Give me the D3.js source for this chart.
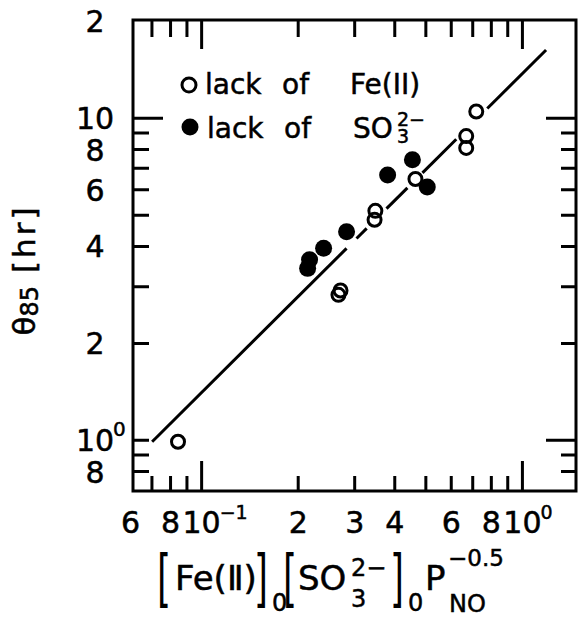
<!DOCTYPE html>
<html>
<head>
<meta charset="utf-8">
<script src="https://cdn.jsdelivr.net/npm/d3@7"></script>
<style>
  body { margin: 0; background: #fff; }
  text { font-family: "DejaVu Sans", sans-serif; fill: #000; stroke: #000; stroke-width: 0.5px; }
</style>
</head>
<body>
<svg id="chart" width="579" height="619"></svg>
<script>
// Data
const lackFeX = [0.0844, 0.271, 0.267, 0.348, 0.346, 0.464, 0.668, 0.668, 0.718];
const lackFeY = [0.99, 2.92, 2.83, 5.16, 4.84, 6.48, 8.81, 8.09, 10.5];
const lackSO3X = [0.217, 0.214, 0.240, 0.283, 0.380, 0.454, 0.505];
const lackSO3Y = [3.64, 3.42, 3.95, 4.44, 6.67, 7.43, 6.12];

// fitted line (end points) and the pieces actually drawn (x ranges)
const fitLine = [[0.0701, 0.99], [1.185, 16.3]];
const fitPieces = [[0.0701, 0.283], [0.304, 0.327], [0.377, 0.438], [0.488, 0.622], [0.777, 1.185]];

// ticks
const xMajor = [0.1, 1];
const xMinor = [0.07, 0.08, 0.09, 0.2, 0.3, 0.4, 0.5, 0.6, 0.7, 0.8, 0.9];
const yMajorLeft = [10];
const yMinorLeft = [0.8, 0.9, 1, 2, 3, 4, 5, 6, 7, 8, 9];
const yMajorRight = [1, 10];
const yMinorRight = [0.8, 0.9, 2, 3, 4, 5, 6, 7, 8, 9];

const xLabelValues = [0.06, 0.08, 0.1, 0.2, 0.3, 0.4, 0.6, 0.8, 1];
const xLabelText = ["6", "8", "10", "2", "3", "4", "6", "8", "10"];
const xLabelExp = ["", "", "\u22121", "", "", "", "", "", "0"];
const yLabelValues = [20, 10, 8, 6, 4, 2, 1, 0.8];
const yLabelText = ["2", "10", "8", "6", "4", "2", "10", "8"];
const yLabelExp = ["", "", "", "", "", "", "0", ""];

const svg = d3.select("#chart");
const m = { left: 133, right: 576, top: 20, bottom: 491 };

const x = d3.scaleLog().domain([0.0611, 1.469]).range([m.left, m.right]);
const y = d3.scaleLog().domain([0.696, 20.2]).range([m.bottom, m.top]);

// Frame and inward ticks, as one path
const p = d3.path();
p.rect(m.left, m.top, m.right - m.left, m.bottom - m.top);
function xticks(values, y0, y1) {
  values.forEach(v => { p.moveTo(x(v), y0); p.lineTo(x(v), y1); });
}
function yticks(values, x0, x1) {
  values.forEach(v => { p.moveTo(x0, y(v)); p.lineTo(x1, y(v)); });
}
xticks(xMinor, m.bottom, m.bottom - 15);
xticks(xMajor, m.bottom, m.bottom - 30);
xticks(xMinor, m.top, m.top + 17);
xticks(xMajor, m.top, m.top + 29);
yticks(yMinorLeft, m.left, m.left + 16);
yticks(yMajorLeft, m.left, m.left + 30);
yticks(yMinorRight, m.right, m.right - 15);
yticks(yMajorRight, m.right, m.right - 30);
svg.append("path")
  .attr("d", p.toString())
  .attr("fill", "none").attr("stroke", "#000").attr("stroke-width", 3);

// Tick labels
const xl = svg.append("g");
xLabelValues.forEach(function (v, i) {
  xl.append("text")
    .attr("x", x(v)).attr("y", m.bottom + 42)
    .attr("text-anchor", "middle")
    .style("font-size", "30px")
    .text(xLabelText[i]);
  if (xLabelExp[i]) {
    xl.append("text")
      .attr("x", x(v) + 18).attr("y", m.bottom + 28)
      .style("font-size", "19px")
      .text(xLabelExp[i]);
  }
});
const yl = svg.append("g");
yLabelValues.forEach(function (v, i) {
  yl.append("text")
    .attr("x", 95).attr("y", y(v) + 11)
    .attr("text-anchor", "middle")
    .style("font-size", "30px")
    .text(yLabelText[i]);
  if (yLabelExp[i]) {
    yl.append("text")
      .attr("x", 113).attr("y", y(v) - 4)
      .style("font-size", "20px")
      .text(yLabelExp[i]);
  }
});

// Fit line, drawn in pieces with gaps round the points
const lx0 = Math.log10(fitLine[0][0]), ly0 = Math.log10(fitLine[0][1]);
const lx1 = Math.log10(fitLine[1][0]), ly1 = Math.log10(fitLine[1][1]);
function fitY(v) {
  return Math.pow(10, ly0 + (Math.log10(v) - lx0) * (ly1 - ly0) / (lx1 - lx0));
}
svg.append("g").selectAll("line")
  .data(fitPieces).enter().append("line")
  .attr("x1", d => x(d[0])).attr("y1", d => y(fitY(d[0])))
  .attr("x2", d => x(d[1])).attr("y2", d => y(fitY(d[1])))
  .attr("stroke", "#000").attr("stroke-width", 3);

// Points
svg.append("g").selectAll("circle")
  .data(lackSO3X).enter().append("circle")
  .attr("cx", d => x(d)).attr("cy", (d, i) => y(lackSO3Y[i]))
  .attr("r", 8.5).attr("fill", "#000");
svg.append("g").selectAll("circle")
  .data(lackFeX).enter().append("circle")
  .attr("cx", d => x(d)).attr("cy", (d, i) => y(lackFeY[i]))
  .attr("r", 6.5).attr("fill", "none")
  .attr("stroke", "#000").attr("stroke-width", 3);

// Legend
const lg = svg.append("g").style("font-size", "28px");
lg.append("circle").attr("cx", 189).attr("cy", 85).attr("r", 7)
  .attr("fill", "#fff").attr("stroke", "#000").attr("stroke-width", 3);
lg.append("text").attr("x", 205).attr("y", 94).text("lack");
lg.append("text").attr("x", 282).attr("y", 94).text("of");
lg.append("text").attr("x", 350).attr("y", 94).text("Fe(II)");
lg.append("circle").attr("cx", 190).attr("cy", 127).attr("r", 8.5).attr("fill", "#000");
lg.append("text").attr("x", 207).attr("y", 138).text("lack");
lg.append("text").attr("x", 284).attr("y", 138).text("of");
lg.append("text").attr("x", 353).attr("y", 138).text("SO");
lg.append("text").attr("x", 397).attr("y", 126).style("font-size", "19px").text("2\u2212");
lg.append("text").attr("x", 397).attr("y", 143).style("font-size", "19px").text("3");

// Y title
svg.append("text")
  .attr("transform", "translate(35,270) rotate(-90)")
  .attr("text-anchor", "middle")
  .style("font-size", "31px")
  .html('\u03b8<tspan dy="3" style="font-size:24px">85</tspan><tspan dy="-3" style="letter-spacing:3px"> [hr]</tspan>');

// X title (tall thin brackets: normal glyph stretched vertically)
const xt = svg.append("g");
function br(px, s) {
  xt.append("text")
    .attr("transform", `translate(${px},599) scale(1,1.75)`)
    .style("font-size", "36px").style("stroke-width", "0")
    .text(s);
}
br(157, "[");
xt.append("text").attr("x", 175).attr("y", 590).style("font-size", "34px").text("Fe(\u2161)");
br(254, "]");
xt.append("text").attr("x", 272).attr("y", 611).style("font-size", "24px").text("0");
br(283, "[");
xt.append("text").attr("x", 298).attr("y", 590).style("font-size", "34px").text("SO");
xt.append("text").attr("x", 351).attr("y", 576).style("font-size", "24px").text("2\u2212");
xt.append("text").attr("x", 351).attr("y", 607).style("font-size", "24px").text("3");
br(390, "]");
xt.append("text").attr("x", 408).attr("y", 611).style("font-size", "24px").text("0");
xt.append("text").attr("x", 425).attr("y", 590).style("font-size", "34px").text("P");
xt.append("text").attr("x", 448).attr("y", 566).style("font-size", "23px").text("\u22120.5");
xt.append("text").attr("x", 449).attr("y", 612).style("font-size", "24px").text("NO");
</script>
</body>
</html>
